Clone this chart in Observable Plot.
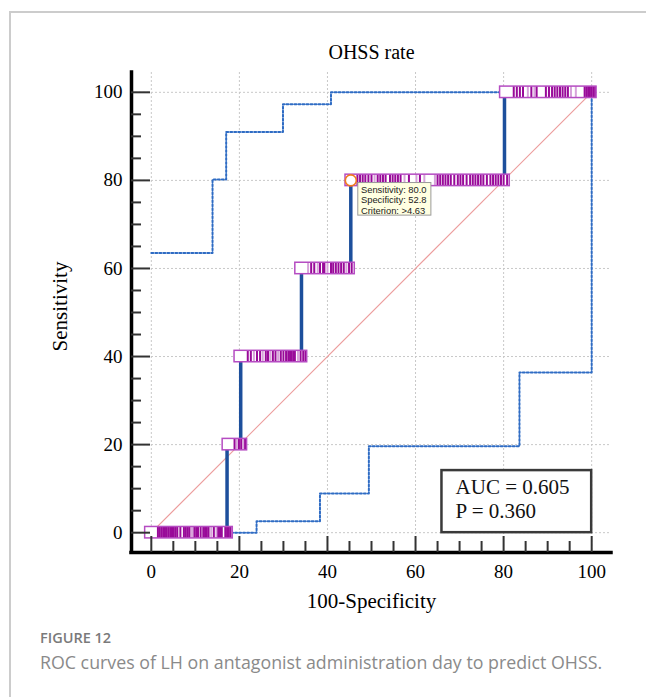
<!DOCTYPE html>
<html><head><meta charset="utf-8">
<script src="https://cdn.jsdelivr.net/npm/d3@7"></script>
<script src="https://cdn.jsdelivr.net/npm/@observablehq/plot@0.6"></script>
<style>
html,body{margin:0;padding:0;background:#fff;}
#wrap{position:relative;width:646px;height:697px;overflow:hidden;}
#border{position:absolute;left:9px;top:11px;width:660px;height:720px;border-top:2px solid #cccccc;border-left:2px solid #cccccc;}
#chart{position:absolute;left:0;top:0;}
.cap1{position:absolute;left:40px;top:628px;font-family:"Open Sans";font-size:14.5px;font-weight:600;color:#7a7a7a;}
.cap2{position:absolute;left:40px;top:650px;font-family:"Open Sans";font-size:17.8px;color:#8a8a8a;white-space:nowrap;}
</style></head>
<body>
<div id="wrap">
<div id="border"></div>
<div id="chart"></div>
<div class="cap1">FIGURE 12</div>
<div class="cap2">ROC curves of LH on antagonist administration day to predict OHSS.</div>
</div>
<script>
// ROC step curve (100-Specificity, Sensitivity)
const rocX = [0, 17.2, 20.3, 34.1, 45.3, 80.2, 100];
const rocY = [0, 20, 40, 60, 80, 100, 100];
// 95% confidence bounds
const upperX = [0, 13.9, 17.0, 29.9, 40.8, 100];
const upperY = [63.5, 80.2, 91.0, 97.3, 100, 100];
const lowerX = [17.2, 23.9, 38.3, 49.4, 83.6, 100];
const lowerY = [0, 2.6, 8.9, 19.6, 36.4, 100];
// observation boxes at each sensitivity level
const levels = [0, 20, 40, 60, 80, 100];
const boxStart = [-1.4, 16.2, 18.9, 32.7, 44.1, 79.2];
const boxEnd = [18.5, 21.75, 35.4, 46.2, 81.4, 101.1];
const darkStripes = [
  [1.5,1.9,2.3,2.7,3.1,3.5,3.9,4.3,4.7,5.1,5.5,5.9,6.6,7.4,7.8,8.2,8.6,9.8,10.2,10.6,11.2,11.8,12.2,12.6,13.0,14.2,15.2,15.6,16.0,16.8,17.2,17.6,18.0],
  [18.9,19.9,20.4,21.3],
  [21.9,22.6,24.0,24.7,26.0,26.5,27.6,28.2,29.4,30.0,30.6,31.1,31.5,31.9,32.3,32.6,33.9,34.5,35.0],
  [36.3,37.0,38.3,39.0,39.3,40.8,41.3,41.9,42.5,43.1,43.7,44.9,45.5],
  [46.8,47.4,48.0,48.6,49.3,50.0,51.4,52.0,52.6,53.2,54.2,54.8,55.4,56.0,56.6,58.5,61.0,65.0,65.6,66.2,66.8,67.4,68.0,68.8,69.6,70.2,70.8,71.6,72.4,73.0,73.6,74.2,74.8,75.4,76.2,77.0,77.6,78.2,78.8,79.4,80.0,80.8],
  [82.3,83.0,83.7,84.4,86.3,87.5,89.6,90.3,91.0,91.6,92.2,92.8,93.4,94.0,94.6,98.4,98.8,99.2,99.6,100.0,100.4,100.8]
];
const lightStripes = [
  [9.0,9.4,13.6,14.8],
  [19.4,20.9],
  [23.3,25.3,27.0,28.8,33.3],
  [35.6,37.8,40.0,44.3],
  [50.7,57.5,60.2,62.0,64.4],
  [85.5,87.0,95.3,96.4]
];
// operating point and annotation
const cutX = [45.3], cutY = [80];
const tipLines = ["Sensitivity: 80.0", "Specificity: 52.8", "Criterion: >4.63"];
const statLines = ["AUC = 0.605", "P = 0.360"];
const majorTicks = [0, 20, 40, 60, 80, 100];
const minorTicks = [5,10,15,25,30,35,45,50,55,65,70,75,85,90,95];
const chance = [0, 100];

const roc = rocX.map((x, i) => ({x, y: rocY[i]}));
const upper = upperX.map((x, i) => ({x, y: upperY[i]}));
const lower = lowerX.map((x, i) => ({x, y: lowerY[i]}));
const boxes = levels.map((y, i) => ({y, x1: boxStart[i], x2: boxEnd[i]}));
const dark = darkStripes.flatMap((arr, i) => arr.map(x => ({x, y: levels[i]})));
const light = lightStripes.flatMap((arr, i) => arr.map(x => ({x, y: levels[i]})));
const cut = cutX.map((x, i) => ({x, y: cutY[i]}));
const tipBox = [{x1: 47.0, x2: 63.6, y1: 72.0, y2: 79.4}];
const tip = tipLines.map((t, i) => ({t, x: 47.6, y: 77.9 - i * 2.45}));
const statBox = [{x1: 66, x2: 100, y1: 0, y2: 14.1}];
const stat = statLines.map((t, i) => ({t, x: 69.1, y: 10.4 - i * 5.6}));

const serif = '"Liberation Serif", "Times New Roman", serif';
const H = 1.3;

const plot = Plot.plot({
  width: 646, height: 620,
  marginLeft: 131, marginRight: 35, marginTop: 72, marginBottom: 68,
  x: {domain: [-4.5, 104.5]},
  y: {domain: [-4.5, 104.5]},
  style: {fontFamily: serif, fontSize: "19px", color: "#000", background: "transparent", overflow: "visible"},
  marks: [
    Plot.gridX(majorTicks, {stroke: "#c8c8c8", strokeOpacity: 1, strokeDasharray: "2,2"}),
    Plot.gridY(majorTicks, {stroke: "#c8c8c8", strokeOpacity: 1, strokeDasharray: "2,2"}),
    Plot.link([{a: chance[0], b: chance[1]}], {x1: "a", y1: "a", x2: "b", y2: "b", stroke: "#ec9c9c", strokeWidth: 1.2}),
    Plot.line(upper, {x: "x", y: "y", curve: "step-after", stroke: "#2f6cc4", strokeWidth: 2, strokeDasharray: "2,2"}),
    Plot.line(lower, {x: "x", y: "y", curve: "step-after", stroke: "#2f6cc4", strokeWidth: 2, strokeDasharray: "2,2"}),
    Plot.line(roc, {x: "x", y: "y", curve: "step-after", stroke: "#1d4f9c", strokeWidth: 3.5}),
    Plot.rect(boxes, {x1: "x1", x2: "x2", y1: d => d.y - H, y2: d => d.y + H, fill: "white"}),
    Plot.ruleX(light, {x: "x", y1: d => d.y - H, y2: d => d.y + H, stroke: "#d7a3da", strokeWidth: 2}),
    Plot.ruleX(dark, {x: "x", y1: d => d.y - H, y2: d => d.y + H, stroke: "#990a99", strokeWidth: 2}),
    Plot.rect(boxes, {x1: "x1", x2: "x2", y1: d => d.y - H, y2: d => d.y + H, fill: "none", stroke: "#b54cc2", strokeWidth: 1.5}),
    Plot.dot(cut, {x: "x", y: "y", r: 5.5, fill: "white", stroke: "#f07a1e", strokeWidth: 1.6}),
    Plot.rect(tipBox, {x1: "x1", x2: "x2", y1: "y1", y2: "y2", fill: "#ffffe1", stroke: "#9a9a9a", strokeWidth: 1}),
    Plot.text(tip, {x: "x", y: "y", text: "t", textAnchor: "start", fontFamily: '"Liberation Sans", Arial, sans-serif', fontSize: 9.4, fill: "#222"}),
    Plot.rect(statBox, {x1: "x1", x2: "x2", y1: "y1", y2: "y2", fill: "white", stroke: "#3a3a3a", strokeWidth: 2.5}),
    Plot.text(stat, {x: "x", y: "y", text: "t", textAnchor: "start", fontSize: 21, fill: "#111"}),
    Plot.ruleX([-4.5], {stroke: "#000", strokeWidth: 3.5, strokeLinecap: "square"}),
    Plot.ruleY([-4.5], {stroke: "#000", strokeWidth: 3.5, strokeLinecap: "square"}),
    Plot.tickY(majorTicks, {y: d => d, insetRight: 461, stroke: "#333", strokeWidth: 2}),
    Plot.tickY(minorTicks, {y: d => d, insetRight: 470, stroke: "#333", strokeWidth: 2}),
    Plot.tickX(majorTicks, {x: d => d, insetTop: 464, stroke: "#333", strokeWidth: 2}),
    Plot.tickX(minorTicks, {x: d => d, insetTop: 469, stroke: "#333", strokeWidth: 2}),
    Plot.axisX({ticks: majorTicks, tickSize: 0, tickPadding: 12, label: null, tickFormat: d => String(d)}),
    Plot.axisY({ticks: majorTicks, tickSize: 0, tickPadding: 9, label: null, tickFormat: d => String(d)}),
    Plot.text(["OHSS rate"], {frameAnchor: "top", lineAnchor: "middle", dy: -20, fontSize: 20}),
    Plot.text(["100-Specificity"], {frameAnchor: "bottom", lineAnchor: "middle", dy: 49, fontSize: 21}),
    Plot.text(["Sensitivity"], {frameAnchor: "left", textAnchor: "middle", lineAnchor: "middle", dx: -71, dy: -6, rotate: -90, fontSize: 21})
  ]
});
document.getElementById("chart").appendChild(plot);
</script>
</body></html>
